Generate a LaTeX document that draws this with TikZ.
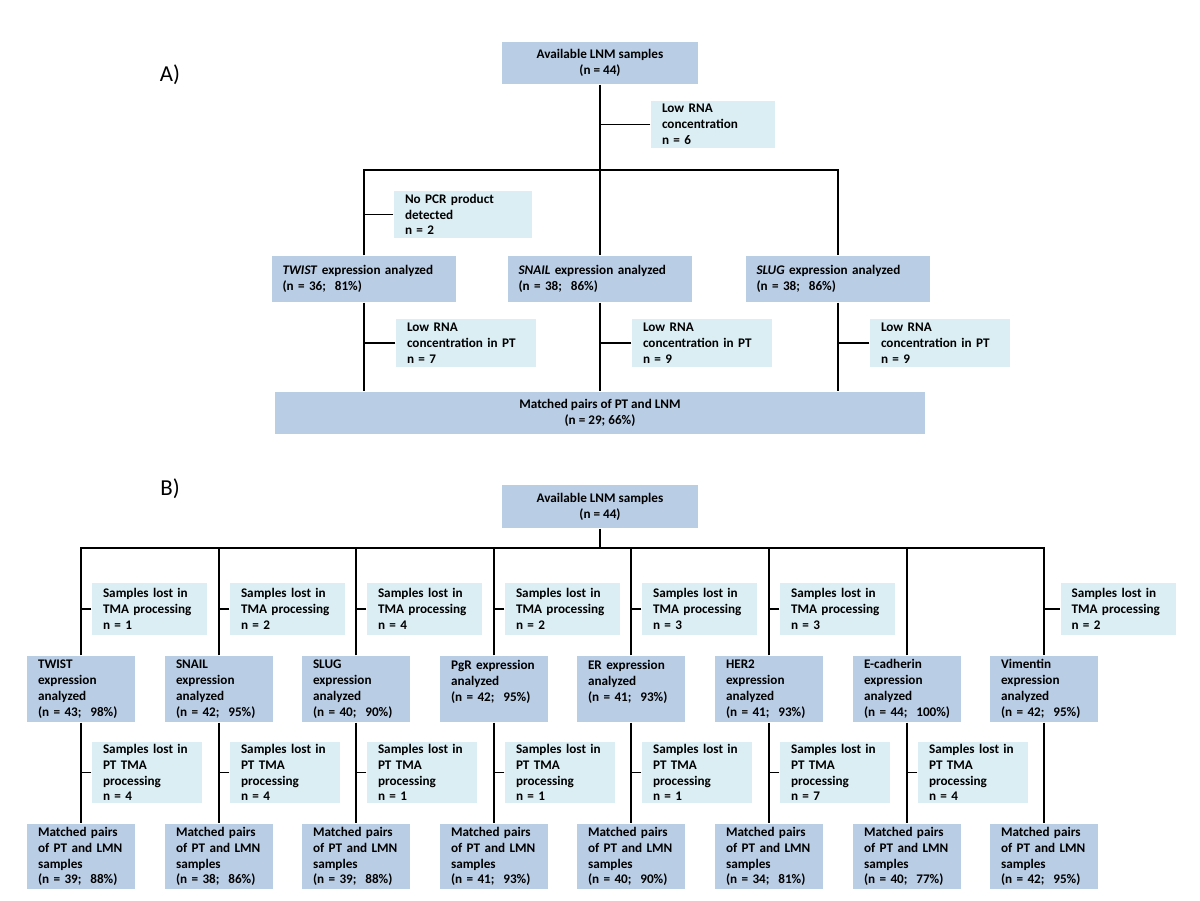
\documentclass[tikz,border=0pt]{standalone}
\usepackage{fontspec}
\setmainfont{Carlito}
\definecolor{boxblue}{RGB}{185,205,229}
\definecolor{lostblue}{RGB}{219,238,244}

\begin{document}
\begin{tikzpicture}[x=0.02cm,y=-0.02cm,line width=0.6pt]
  \tikzstyle{box}=[fill=boxblue,font=\bfseries\fontsize{7.5}{9}\selectfont,inner xsep=0.22cm,inner ysep=0pt]
  \tikzstyle{lost}=[box,fill=lostblue,align=left]
  \tikzstyle{aexpr}=[box,align=left,text width=3.26cm,minimum height=0.92cm]
  \tikzstyle{alowpt}=[lost,text width=2.36cm,minimum height=0.96cm]
  \tikzstyle{bexpr}=[box,align=left,text width=1.72cm,minimum height=1.32cm]
  \tikzstyle{bmatch}=[box,align=left,text width=1.72cm,minimum height=1.30cm]
  \tikzstyle{blost}=[lost,text width=1.86cm,minimum height=1.04cm]
  \tikzstyle{bptlost}=[lost,text width=1.76cm,minimum height=1.22cm]
  \tikzstyle{tag}=[font=\fontsize{13}{15}\selectfont]
  \useasboundingbox[fill=white] (0,0) rectangle (1200,900);

  % A) RT-PCR
  \node[tag] (alabel) at (170,75) {A)};
  \node[box,align=center,minimum width=3.92cm,minimum height=0.84cm] (atop) at (600,63) {Available LNM samples\\(n = 44)};
  \node[lost,text width=2.04cm,minimum height=0.94cm] (alow) at (713,124.5) {Low RNA\\concentration\\n = 6};
  \node[lost,text width=2.32cm,minimum height=0.94cm] (anopcr) at (463,214.5) {No PCR product\\detected\\n = 2};
  \node[aexpr] (atwist) at (364,279) {\textit{TWIST} expression analyzed\\(n = 36;\ \ 81\%)};
  \node[aexpr] (asnail) at (600,279) {\textit{SNAIL} expression analyzed\\(n = 38;\ \ 86\%)};
  \node[aexpr] (aslug) at (838,279) {\textit{SLUG} expression analyzed\\(n = 38;\ \ 86\%)};
  \node[alowpt] (alowpt1) at (466,343) {Low RNA\\concentration in PT\\n = 7};
  \node[alowpt] (alowpt2) at (702,343) {Low RNA\\concentration in PT\\n = 9};
  \node[alowpt] (alowpt3) at (940,343) {Low RNA\\concentration in PT\\n = 9};
  \node[box,align=center,minimum width=13cm,minimum height=0.84cm] (amatched) at (600,413) {Matched pairs of PT and LNM\\(n = 29; 66\%)};
  \coordinate (abar) at (600,170);

  \draw (atop.south) -- (asnail.north);
  \draw (atwist.north) -- (atwist.north |- abar) -- (aslug.north |- abar) -- (aslug.north);
  \draw (alow.west) -- (alow.west -| atop.south);
  \draw (anopcr.west) -- (anopcr.west -| atwist.north);
  \draw (atwist.south) -- (atwist.south |- amatched.north);
  \draw (asnail.south) -- (asnail.south |- amatched.north);
  \draw (aslug.south) -- (aslug.south |- amatched.north);
  \draw (alowpt1.west) -- (alowpt1.west -| atwist.south);
  \draw (alowpt2.west) -- (alowpt2.west -| asnail.south);
  \draw (alowpt3.west) -- (alowpt3.west -| aslug.south);

  % B) IHC on TMA
  \node[tag] (blabel) at (170,489) {B)};
  \node[box,align=center,minimum width=3.92cm,minimum height=0.86cm] (btop) at (600,506.5) {Available LNM samples\\(n = 44)};
  \coordinate (bbar) at (600,548);

  \node[blost] (blost1) at (149.5,609) {Samples lost in\\TMA processing\\n = 1};
  \node[blost] (blost2) at (287.5,609) {Samples lost in\\TMA processing\\n = 2};
  \node[blost] (blost3) at (424.5,609) {Samples lost in\\TMA processing\\n = 4};
  \node[blost] (blost4) at (562.5,609) {Samples lost in\\TMA processing\\n = 2};
  \node[blost] (blost5) at (699.5,609) {Samples lost in\\TMA processing\\n = 3};
  \node[blost] (blost6) at (837.5,609) {Samples lost in\\TMA processing\\n = 3};
  \node[blost] (blost8) at (1118,609) {Samples lost in\\TMA processing\\n = 2};

  \node[bexpr] (btwist) at (81,689) {TWIST\\expression\\analyzed\\(n = 43;\ \ 98\%)};
  \node[bexpr] (bsnail) at (219,689) {SNAIL\\expression\\analyzed\\(n = 42;\ \ 95\%)};
  \node[bexpr] (bslug) at (356,689) {SLUG\\expression\\analyzed\\(n = 40;\ \ 90\%)};
  \node[bexpr] (bpgr) at (494,689) {PgR expression\\analyzed\\(n = 42;\ \ 95\%)\\\mbox{}};
  \node[bexpr] (ber) at (631,689) {ER expression\\analyzed\\(n = 41;\ \ 93\%)\\\mbox{}};
  \node[bexpr] (bher) at (769,689) {HER2\\expression\\analyzed\\(n = 41;\ \ 93\%)};
  \node[bexpr] (becad) at (907,689) {E-cadherin\\expression\\analyzed\\\mbox{(n = 44;\ \ 100\%)}};
  \node[bexpr] (bvim) at (1044,689) {Vimentin\\expression\\analyzed\\(n = 42;\ \ 95\%)};

  \node[bptlost] (bptlost1) at (147,772.5) {Samples lost in\\PT TMA\\processing\\n = 4};
  \node[bptlost] (bptlost2) at (285,772.5) {Samples lost in\\PT TMA\\processing\\n = 4};
  \node[bptlost] (bptlost3) at (422,772.5) {Samples lost in\\PT TMA\\processing\\n = 1};
  \node[bptlost] (bptlost4) at (560,772.5) {Samples lost in\\PT TMA\\processing\\n = 1};
  \node[bptlost] (bptlost5) at (697,772.5) {Samples lost in\\PT TMA\\processing\\n = 1};
  \node[bptlost] (bptlost6) at (835,772.5) {Samples lost in\\PT TMA\\processing\\n = 7};
  \node[bptlost] (bptlost7) at (973,772.5) {Samples lost in\\PT TMA\\processing\\n = 4};

  \node[bmatch] (bmtwist) at (81,856.5) {Matched pairs\\of PT and LMN\\samples\\(n = 39;\ \ 88\%)};
  \node[bmatch] (bmsnail) at (219,856.5) {Matched pairs\\of PT and LMN\\samples\\(n = 38;\ \ 86\%)};
  \node[bmatch] (bmslug) at (356,856.5) {Matched pairs\\of PT and LMN\\samples\\(n = 39;\ \ 88\%)};
  \node[bmatch] (bmpgr) at (494,856.5) {Matched pairs\\of PT and LMN\\samples\\(n = 41;\ \ 93\%)};
  \node[bmatch] (bmer) at (631,856.5) {Matched pairs\\of PT and LMN\\samples\\(n = 40;\ \ 90\%)};
  \node[bmatch] (bmher) at (769,856.5) {Matched pairs\\of PT and LMN\\samples\\(n = 34;\ \ 81\%)};
  \node[bmatch] (bmecad) at (907,856.5) {Matched pairs\\of PT and LMN\\samples\\(n = 40;\ \ 77\%)};
  \node[bmatch] (bmvim) at (1044,856.5) {Matched pairs\\of PT and LMN\\samples\\(n = 42;\ \ 95\%)};

  \draw (btop.south) -- (bbar);
  \draw (btwist.north) -- (btwist.north |- bbar) -- (bvim.north |- bbar) -- (bvim.north);
  \draw (bsnail.north) -- (bsnail.north |- bbar);
  \draw (bslug.north) -- (bslug.north |- bbar);
  \draw (bpgr.north) -- (bpgr.north |- bbar);
  \draw (ber.north) -- (ber.north |- bbar);
  \draw (bher.north) -- (bher.north |- bbar);
  \draw (becad.north) -- (becad.north |- bbar);

  \draw (blost1.west) -- (blost1.west -| btwist.north);
  \draw (blost2.west) -- (blost2.west -| bsnail.north);
  \draw (blost3.west) -- (blost3.west -| bslug.north);
  \draw (blost4.west) -- (blost4.west -| bpgr.north);
  \draw (blost5.west) -- (blost5.west -| ber.north);
  \draw (blost6.west) -- (blost6.west -| bher.north);
  \draw (blost8.west) -- (blost8.west -| bvim.north);

  \draw (btwist.south) -- (bmtwist.north);
  \draw (bsnail.south) -- (bmsnail.north);
  \draw (bslug.south) -- (bmslug.north);
  \draw (bpgr.south) -- (bmpgr.north);
  \draw (ber.south) -- (bmer.north);
  \draw (bher.south) -- (bmher.north);
  \draw (becad.south) -- (bmecad.north);
  \draw (bvim.south) -- (bmvim.north);

  \draw (bptlost1.west) -- (bptlost1.west -| btwist.south);
  \draw (bptlost2.west) -- (bptlost2.west -| bsnail.south);
  \draw (bptlost3.west) -- (bptlost3.west -| bslug.south);
  \draw (bptlost4.west) -- (bptlost4.west -| bpgr.south);
  \draw (bptlost5.west) -- (bptlost5.west -| ber.south);
  \draw (bptlost6.west) -- (bptlost6.west -| bher.south);
  \draw (bptlost7.west) -- (bptlost7.west -| becad.south);
\end{tikzpicture}
\end{document}
